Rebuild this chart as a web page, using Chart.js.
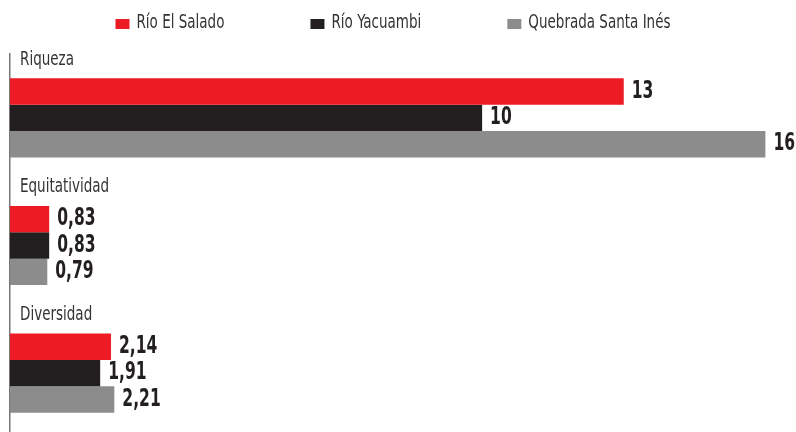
<!DOCTYPE html>
<html>
<head>
<meta charset="utf-8">
<script src="https://cdn.jsdelivr.net/npm/chart.js@4.4.0/dist/chart.umd.min.js"></script>
<style>
  html, body { margin: 0; padding: 0; overflow: hidden; background: #fff; }
</style>
</head>
<body>
<canvas id="myChart" width="796" height="437"></canvas>
<script>
const categorias = ["Riqueza", "Equitatividad", "Diversidad"];
const series = ["Río El Salado", "Río Yacuambi", "Quebrada Santa Inés"];
const elSalado = [13, 0.83, 2.14];
const yacuambi = [10, 0.83, 1.91];
const santaInes = [16, 0.79, 2.21];
const colores = ["#ED1C24", "#231F20", "#8C8C8C"];

const FUENTE = "'DejaVu Sans Condensed', 'DejaVu Sans', sans-serif";

// formato con coma decimal
function formato(v) {
    return Number.isInteger(v) ? String(v) : v.toFixed(2).replace('.', ',');
}

// texto estrechado horizontalmente (imita una fuente condensada)
function texto(c, str, x, y, escala) {
    c.save();
    c.translate(x, y);
    c.scale(escala, 1);
    c.fillText(str, 0, 0);
    c.restore();
}

// leyenda propia, centrada arriba
const leyenda = {
    id: 'leyenda',
    afterDraw(chart) {
        const c = chart.ctx;
        const esc = 0.79;
        c.save();
        c.font = "19px " + FUENTE;
        c.textBaseline = 'middle';
        const caja = 14, sep = 7, hueco = 86;
        const anchos = chart.data.datasets.map(d => caja + sep + c.measureText(d.label).width * esc);
        const total = anchos.reduce((a, b) => a + b, 0) + hueco * (anchos.length - 1);
        let x = chart.width / 2 - 5 - total / 2;
        const y = 23;
        chart.data.datasets.forEach((d, i) => {
            c.fillStyle = d.backgroundColor;
            c.fillRect(x, y - 4, caja, 10);
            c.fillStyle = "#333";
            texto(c, d.label, x + caja + sep, y, esc);
            x += anchos[i] + hueco;
        });
        c.restore();
    }
};

// nombre de cada categoría encima de su grupo de barras
const etiquetas = {
    id: 'etiquetas',
    afterDraw(chart) {
        const c = chart.ctx;
        const eje = chart.scales.y;
        c.save();
        c.font = "19px " + FUENTE;
        c.fillStyle = "#333";
        c.textBaseline = 'middle';
        chart.data.labels.forEach((lab, i) => {
            texto(c, lab, eje.right + 10, eje.getPixelForValue(i) - 58, 0.79);
        });
        c.restore();
    }
};

// valores al final de cada barra
const valores = {
    id: 'valores',
    afterDatasetsDraw(chart) {
        const c = chart.ctx;
        c.save();
        c.font = "bold 24px " + FUENTE;
        c.fillStyle = "#231F20";
        c.textBaseline = 'middle';
        chart.data.datasets.forEach((d, i) => {
            chart.getDatasetMeta(i).data.forEach((bar, j) => {
                texto(c, formato(d.data[j]), bar.x + 8, bar.y, 0.72);
            });
        });
        c.restore();
    }
};

const ctx = document.getElementById('myChart').getContext("2d");

const config = {
    type: 'bar',
    data: {
        labels: categorias,
        datasets: [
            { label: series[0], data: elSalado, backgroundColor: colores[0] },
            { label: series[1], data: yacuambi, backgroundColor: colores[1] },
            { label: series[2], data: santaInes, backgroundColor: colores[2] }
        ]
    },
    options: {
        indexAxis: 'y',
        responsive: false,
        animation: false,
        layout: { padding: { top: 54, left: 10, right: 7, bottom: 0 } },
        datasets: {
            bar: { categoryPercentage: 0.62, barPercentage: 1, borderWidth: 0 }
        },
        scales: {
            x: { display: false, min: 0, max: 16.5 },
            y: {
                grid: { display: false },
                border: { display: true, color: "#777", width: 1.5 },
                afterFit(scale) { scale.width = 0; },
                ticks: { display: false }
            }
        },
        plugins: {
            legend: { display: false },
            tooltip: { enabled: false }
        }
    },
    plugins: [leyenda, etiquetas, valores]
};

const myChart = new Chart(ctx, config);
</script>
</body>
</html>
